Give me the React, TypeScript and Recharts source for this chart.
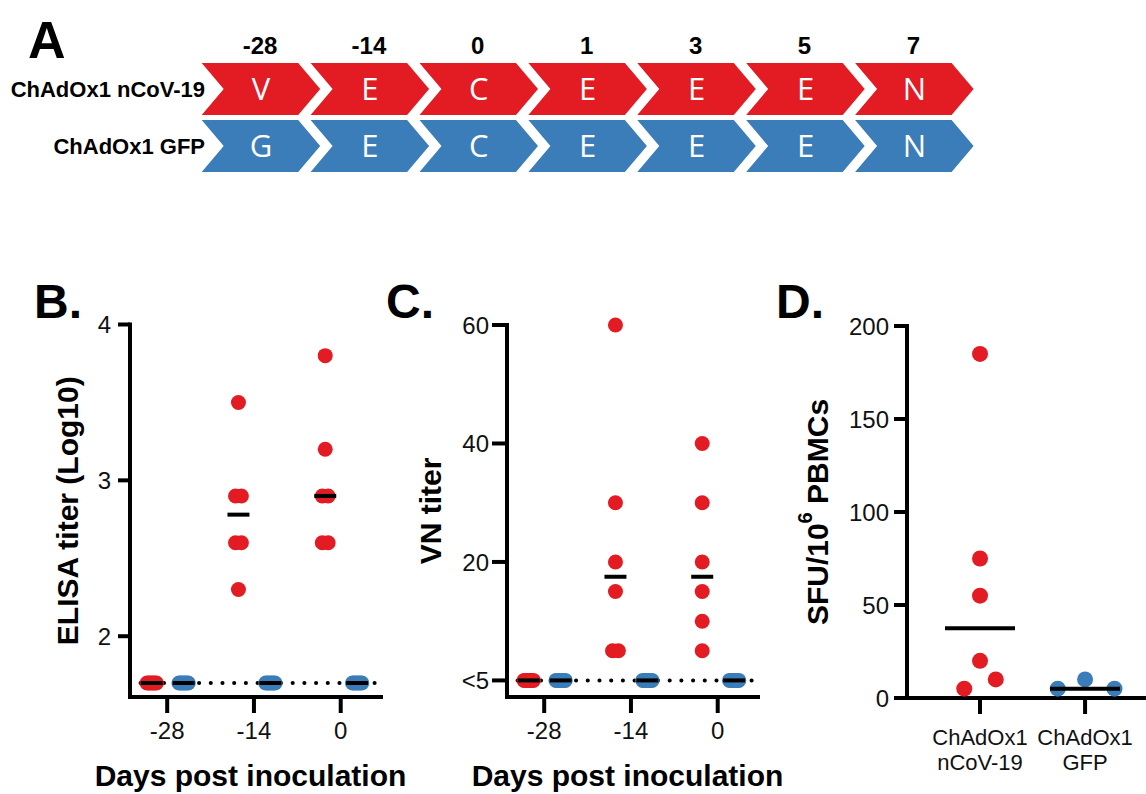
import React from 'react';
import { ScatterChart, Scatter, XAxis, YAxis, ReferenceLine, Label } from 'recharts';

const FONT = '"Liberation Sans", Arial, Helvetica, sans-serif';
const RED = '#E31B23';
const BLUE = '#3A7DB8';
const INK = '#111';

// ---------- Panel A: schedule ----------
const scheduleDays = ['-28', '-14', '0', '1', '3', '5', '7'];
const ncovSteps = ['V', 'E', 'C', 'E', 'E', 'E', 'N'];
const gfpSteps = ['G', 'E', 'C', 'E', 'E', 'E', 'N'];
const groupNames = ['ChAdOx1 GFP', 'ChAdOx1 nCoV-19']; // row 0, row 1

// ---------- Panels B & C: time course ----------
const sampleDays = [-28, -14, 0];
const elisaNcov = [
  [1.7, 1.7, 1.7, 1.7, 1.7, 1.7],
  [3.5, 2.9, 2.9, 2.6, 2.6, 2.3],
  [3.8, 3.2, 2.9, 2.9, 2.6, 2.6],
];
const elisaGfp = [
  [1.7, 1.7, 1.7, 1.7, 1.7, 1.7],
  [1.7, 1.7, 1.7, 1.7, 1.7, 1.7],
  [1.7, 1.7, 1.7, 1.7, 1.7, 1.7],
];
const elisaNcovMedian = [1.7, 2.78, 2.9];
const elisaGfpMedian = [1.7, 1.7, 1.7];
const elisaTicks = [2, 3, 4];
const elisaLimit = 1.7;

const vnNcov = [
  [0, 0, 0, 0, 0, 0],
  [60, 30, 20, 15, 5, 5],
  [40, 30, 20, 15, 10, 5],
];
const vnGfp = [
  [0, 0, 0, 0, 0, 0],
  [0, 0, 0, 0, 0, 0],
  [0, 0, 0, 0, 0, 0],
];
const vnNcovMedian = [0, 17.5, 17.5];
const vnGfpMedian = [0, 0, 0];
const vnTicks = [0, 20, 40, 60];
const vnTickLabels = ['<5', '20', '40', '60'];
const vnLimit = 0;

// ---------- Panel D: ELISpot ----------
const elispotGroups = [
  ['ChAdOx1', 'nCoV-19'],
  ['ChAdOx1', 'GFP'],
];
const elispotNcov = [185, 75, 55, 20, 10, 5];
const elispotNcovJitter = [0, 0, 0, 0, 0.15, -0.15];
const elispotGfp = [5, 10, 5];
const elispotGfpJitter = [-0.26, 0, 0.28];
const elispotMedian = [37.5, 5];
const elispotTicks = [0, 50, 100, 150, 200];

// ---------- helpers ----------
const NCOV_SHIFT = -2.5;
const GFP_SHIFT = 2.65;
const TICK_FONT = 24;
const AXIS_W = 4;

function spread(day: number, shift: number, values: number[]) {
  const counts = new Map<number, number>();
  values.forEach((v) => counts.set(v, (counts.get(v) || 0) + 1));
  const seen = new Map<number, number>();
  return values.map((v) => {
    const n = counts.get(v) || 1;
    const i = seen.get(v) || 0;
    seen.set(v, i + 1);
    const step = n > 2 ? 0.3 : 0.95;
    return { x: day + shift + (i - (n - 1) / 2) * step, y: v };
  });
}

const dot = (color: string, r: number) => (p: any) =>
  <circle cx={p.cx} cy={p.cy} r={r} fill={color} />;

const bar = (w: number) => (p: any) =>
  <line x1={p.cx - w / 2} x2={p.cx + w / 2} y1={p.cy} y2={p.cy} stroke="#000" strokeWidth={4} />;

const axisLine = { stroke: '#000', strokeWidth: AXIS_W, strokeLinecap: 'square' as const };
const tickLine = { stroke: '#000', strokeWidth: AXIS_W };

const makeYTick = (fmt: (v: number) => string) => (p: any) => (
  <text x={p.x} y={p.y} dy={8.6} textAnchor="end" fontSize={TICK_FONT} fontFamily={FONT} fill={INK}>
    {fmt(p.payload.value)}
  </text>
);
const XTick = (p: any) => (
  <text x={p.x} y={p.y} dy={16.2} textAnchor="middle" fontSize={TICK_FONT} fontFamily={FONT} fill={INK}>
    {String(p.payload.value)}
  </text>
);

function yTitle(text: React.ReactNode, dxFromLeft: number) {
  return (props: any) => {
    const vb = props.viewBox || { x: 0, y: 0, width: 0, height: 0 };
    const x = vb.x + dxFromLeft;
    const y = vb.y + vb.height / 2;
    return (
      <text x={x} y={y} transform={`rotate(-90, ${x}, ${y})`} textAnchor="middle" dominantBaseline="central"
        fontSize={30} fontWeight="bold" fontFamily={FONT} fill="#000">{text}</text>
    );
  };
}

function xTitle(text: string, baselineFromTop: number) {
  return (props: any) => {
    const vb = props.viewBox || { x: 0, y: 0, width: 0, height: 0 };
    return (
      <text x={vb.x + vb.width / 2 - 5} y={vb.y + baselineFromTop} textAnchor="middle"
        fontSize={30} fontWeight="bold" fontFamily={FONT} fill="#000">{text}</text>
    );
  };
}

// ---------- Panel A ----------
function chevron(color: string) {
  return (p: any) => {
    const { cx, cy, payload } = p;
    const L = cx - 58.3;
    const h = 26;
    const pts = [
      [L, cy - h], [L + 96.5, cy - h], [L + 118.5, cy], [L + 96.5, cy + h], [L, cy + h], [L + 22, cy],
    ].map((q) => q.join(',')).join(' ');
    return (
      <g>
        <polygon points={pts} fill={color} />
        <text x={cx + 1} y={cy + 11} textAnchor="middle" fill="#fff" fontSize={31}
          fontFamily='"Open Sans", "Liberation Sans", sans-serif'>{payload.letter}</text>
      </g>
    );
  };
}

function Schedule() {
  const ncovRow = ncovSteps.map((letter, i) => ({ x: i, y: 1, letter }));
  const gfpRow = gfpSteps.map((letter, i) => ({ x: i, y: 0, letter }));
  const DayTick = (p: any) => (
    <text x={p.x} y={p.y} dy={-6} textAnchor="middle" fontSize={24} fontWeight="bold" fontFamily={FONT} fill="#000">
      {scheduleDays[p.payload.value]}
    </text>
  );
  const GroupTick = (p: any) => (
    <text x={p.x} y={p.y} dx={5} dy={8} textAnchor="end" fontSize={22} fontWeight="bold" fontFamily={FONT} fill="#000">
      {groupNames[p.payload.value]}
    </text>
  );
  return (
    <div style={{ position: 'absolute', left: 0, top: 0 }}>
      <ScatterChart width={1146} height={190} margin={{ top: 0, right: 0, bottom: 0, left: 0 }}>
        <XAxis type="number" dataKey="x" orientation="top" height={60} domain={[-0.551, 8.136]}
          ticks={[0, 1, 2, 3, 4, 5, 6]} interval={0} axisLine={false} tickLine={false} tickSize={0} tickMargin={0}
          tick={<DayTick />} />
        <YAxis type="number" dataKey="y" width={200} domain={[-0.7719, 1.5088]} ticks={[0, 1]} interval={0}
          axisLine={false} tickLine={false} tickSize={0} tickMargin={0} tick={<GroupTick />} />
        <Scatter data={ncovRow} shape={chevron(RED)} isAnimationActive={false} />
        <Scatter data={gfpRow} shape={chevron(BLUE)} isAnimationActive={false} />
      </ScatterChart>
    </div>
  );
}

// ---------- Panels B & C ----------
type TCProps = {
  left: number; top: number; width: number; height: number;
  margin: { top: number; right: number; bottom: number; left: number };
  yAxisWidth: number; xAxisHeight: number;
  yDomain: [number, number]; yTicks: number[]; yFormat: (v: number) => string;
  yTickSize: number; yTickMargin: number;
  ncov: number[][]; gfp: number[][]; ncovMedian: number[]; gfpMedian: number[];
  limit: number; title: string; titleX: number;
};

function TimeCourse(p: TCProps) {
  const ncovPts = sampleDays.flatMap((d, i) => spread(d, NCOV_SHIFT, p.ncov[i]));
  const gfpPts = sampleDays.flatMap((d, i) => spread(d, GFP_SHIFT, p.gfp[i]));
  const ncovMed = sampleDays.map((d, i) => ({ x: d + NCOV_SHIFT, y: p.ncovMedian[i] }));
  const gfpMed = sampleDays.map((d, i) => ({ x: d + GFP_SHIFT, y: p.gfpMedian[i] }));
  const YTick = makeYTick(p.yFormat);
  return (
    <div style={{ position: 'absolute', left: p.left, top: p.top }}>
      <ScatterChart width={p.width} height={p.height} margin={p.margin}>
        <XAxis type="number" dataKey="x" domain={[-34, 6.5]} ticks={sampleDays} interval={0} height={p.xAxisHeight}
          axisLine={axisLine} tickLine={tickLine} tickSize={16} tickMargin={10} tick={<XTick />}>
          <Label content={xTitle('Days post inoculation', 89)} />
        </XAxis>
        <YAxis type="number" dataKey="y" domain={p.yDomain} ticks={p.yTicks} interval={0} width={p.yAxisWidth}
          axisLine={axisLine} tickLine={tickLine} tickSize={p.yTickSize} tickMargin={p.yTickMargin}
          tick={<YTick />}>
          <Label content={yTitle(p.title, p.titleX)} />
        </YAxis>
        <ReferenceLine segment={[{ x: -32.3, y: p.limit }, { x: 6.5, y: p.limit }]} stroke="#000"
          strokeWidth={4} strokeLinecap="round" strokeDasharray="0.1 11.6" />
        <Scatter data={ncovPts} shape={dot(RED, 7.5)} isAnimationActive={false} />
        <Scatter data={gfpPts} shape={dot(BLUE, 7.5)} isAnimationActive={false} />
        <Scatter data={ncovMed} shape={bar(22)} isAnimationActive={false} />
        <Scatter data={gfpMed} shape={bar(22)} isAnimationActive={false} />
      </ScatterChart>
    </div>
  );
}

// ---------- Panel D ----------
function Elispot() {
  const ncovPts = elispotNcov.map((v, i) => ({ x: 1 + elispotNcovJitter[i], y: v }));
  const gfpPts = elispotGfp.map((v, i) => ({ x: 2 + elispotGfpJitter[i], y: v }));
  const med = elispotMedian.map((v, i) => ({ x: i + 1, y: v }));
  const GroupTick = (p: any) => {
    const lines = elispotGroups[p.payload.value - 1] || [];
    return (
      <text x={p.x} y={p.y} textAnchor="middle" fontSize={22} fontFamily={FONT} fill={INK}>
        <tspan x={p.x} dy={31}>{lines[0]}</tspan>
        <tspan x={p.x} dy={25}>{lines[1]}</tspan>
      </text>
    );
  };
  const YTick = makeYTick((v) => String(v));
  const title = (
    <>
      SFU/10<tspan dy={-12} fontSize={20}>6</tspan><tspan dy={12}> PBMCs</tspan>
    </>
  );
  return (
    <div style={{ position: 'absolute', left: 770, top: 290 }}>
      <ScatterChart width={376} height={504} margin={{ top: 36, right: 0, bottom: 0, left: 0 }}>
        <XAxis type="number" dataKey="x" domain={[0.305, 2.58]} ticks={[1, 2]} interval={0} height={96}
          axisLine={axisLine} tickLine={tickLine} tickSize={16} tickMargin={0} tick={<GroupTick />} />
        <YAxis type="number" dataKey="y" domain={[0, 200]} ticks={elispotTicks} interval={0} width={137}
          axisLine={axisLine} tickLine={tickLine} tickSize={13} tickMargin={5} tick={<YTick />}>
          <Label content={yTitle(title, 47)} />
        </YAxis>
        <Scatter data={ncovPts} shape={dot(RED, 8)} isAnimationActive={false} />
        <Scatter data={gfpPts} shape={dot(BLUE, 8)} isAnimationActive={false} />
        <Scatter data={med} shape={bar(70)} isAnimationActive={false} />
      </ScatterChart>
    </div>
  );
}

export default function App() {
  return (
    <div style={{ position: 'absolute', left: 0, top: 0, width: 1146, height: 794, background: '#fff', fontFamily: FONT, overflow: 'hidden' }}>
      <style>{'.recharts-surface{overflow:visible}.recharts-wrapper{overflow:visible}'}</style>
      <Schedule />
      <TimeCourse left={0} top={290} width={400} height={504}
        margin={{ top: 34.5, right: 19, bottom: 0, left: 0 }} yAxisWidth={130} xAxisHeight={97}
        yDomain={[1.61, 4]} yTicks={elisaTicks} yFormat={(v) => String(v)} yTickSize={12} yTickMargin={7}
        ncov={elisaNcov} gfp={elisaGfp} ncovMedian={elisaNcovMedian} gfpMedian={elisaGfpMedian}
        limit={elisaLimit} title="ELISA titer (Log10)" titleX={67} />
      <TimeCourse left={380} top={290} width={400} height={504}
        margin={{ top: 35, right: 22, bottom: 0, left: 0 }} yAxisWidth={127} xAxisHeight={97}
        yDomain={[-2.8, 60]} yTicks={vnTicks} yFormat={(v) => vnTickLabels[vnTicks.indexOf(v)] ?? String(v)}
        yTickSize={15} yTickMargin={3}
        ncov={vnNcov} gfp={vnGfp} ncovMedian={vnNcovMedian} gfpMedian={vnGfpMedian}
        limit={vnLimit} title="VN titer" titleX={50} />
      <Elispot />
      <svg width={1146} height={794} style={{ position: 'absolute', left: 0, top: 0, pointerEvents: 'none' }}>
        <text x={28} y={58} fontSize={52} fontWeight="bold" fontFamily={FONT} fill="#000">A</text>
        <text x={34} y={318} fontSize={48} fontWeight="bold" fontFamily={FONT} fill="#000">B.</text>
        <text x={386} y={318} fontSize={48} fontWeight="bold" fontFamily={FONT} fill="#000">C.</text>
        <text x={776} y={318} fontSize={48} fontWeight="bold" fontFamily={FONT} fill="#000">D.</text>
      </svg>
    </div>
  );
}
